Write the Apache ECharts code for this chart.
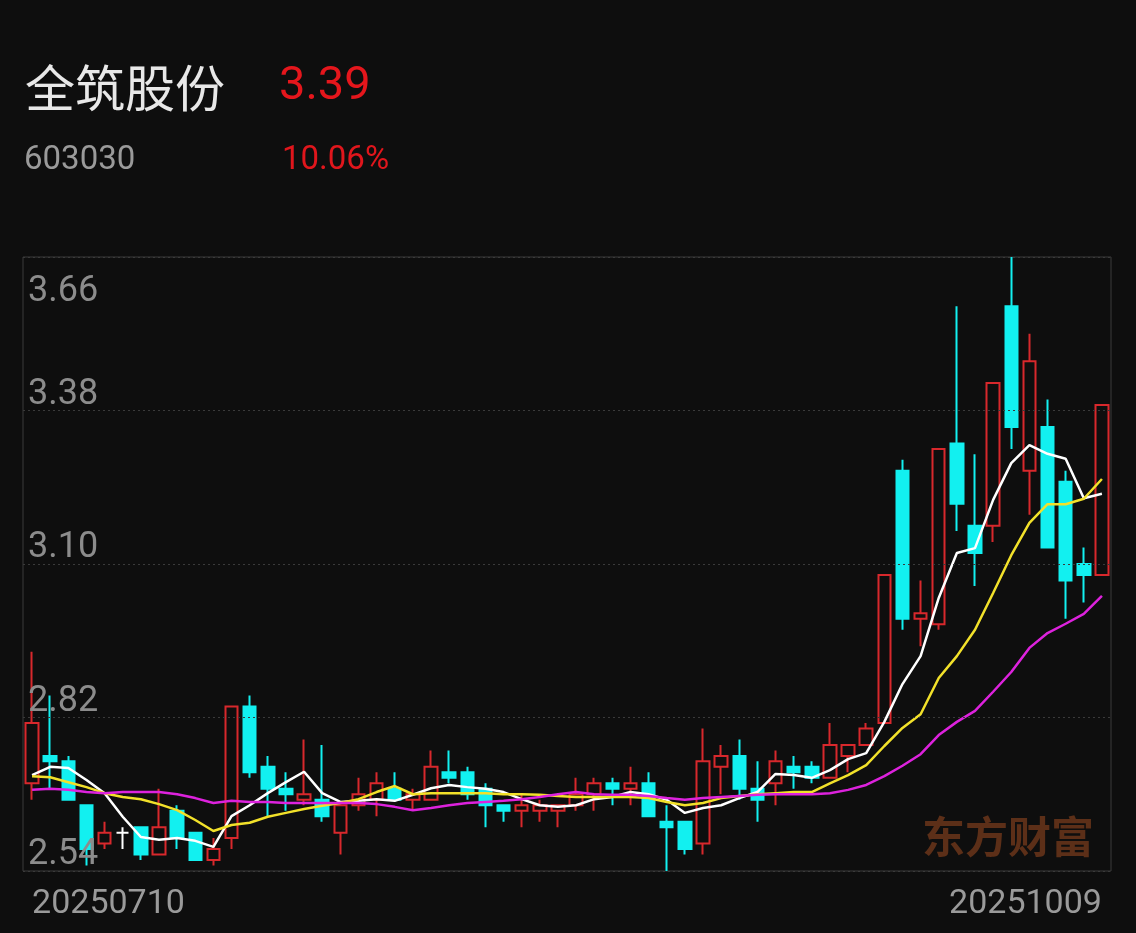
<!DOCTYPE html>
<html>
<head>
<meta charset="utf-8">
<script src="https://cdn.jsdelivr.net/npm/echarts@6/dist/echarts.min.js"></script>
<style>
html,body{margin:0;padding:0;background:#0e0e0e;}
#c{width:1136px;height:933px;}
</style>
</head>
<body>
<div id="c"></div>
<script>
const stockName = '全筑股份';
const stockCode = '603030';
const lastPrice = '3.39';
const changePct = '10.06%';
const watermark = '东方财富';

const categories = [
'20250710','20250711','20250714','20250715','20250716','20250717','20250718','20250721','20250722','20250723',
'20250724','20250725','20250728','20250729','20250730','20250731','20250801','20250804','20250805','20250806',
'20250807','20250808','20250811','20250812','20250813','20250814','20250815','20250818','20250819','20250820',
'20250821','20250822','20250825','20250826','20250827','20250828','20250829','20250901','20250902','20250903',
'20250904','20250905','20250908','20250909','20250910','20250911','20250912','20250915','20250916','20250917',
'20250918','20250919','20250922','20250923','20250924','20250925','20250926','20250929','20250930','20251009'
];
const openPrices = [2.70,2.75,2.74,2.66,2.59,2.61,2.62,2.57,2.65,2.61,
2.56,2.60,2.84,2.73,2.69,2.67,2.67,2.61,2.66,2.67,
2.69,2.67,2.67,2.72,2.72,2.69,2.66,2.65,2.65,2.65,
2.66,2.68,2.70,2.69,2.70,2.63,2.63,2.59,2.73,2.75,
2.69,2.70,2.73,2.73,2.71,2.75,2.77,2.81,3.27,3.00,
2.99,3.32,3.17,3.17,3.57,3.27,3.35,3.25,3.10,3.08];
const closePrices = [2.81,2.74,2.67,2.58,2.61,2.61,2.57,2.62,2.60,2.56,
2.58,2.84,2.72,2.69,2.68,2.68,2.64,2.66,2.68,2.70,
2.67,2.68,2.73,2.71,2.68,2.66,2.65,2.66,2.66,2.66,
2.68,2.70,2.69,2.70,2.64,2.62,2.58,2.74,2.75,2.69,
2.67,2.74,2.72,2.71,2.77,2.77,2.80,3.08,3.00,3.01,
3.31,3.21,3.12,3.43,3.35,3.47,3.13,3.07,3.08,3.39];
const lowPrices = [2.67,2.69,2.67,2.55,2.58,2.58,2.56,2.57,2.58,2.56,
2.55,2.58,2.71,2.64,2.65,2.66,2.63,2.57,2.65,2.64,
2.67,2.65,2.67,2.70,2.67,2.62,2.63,2.62,2.63,2.62,
2.65,2.65,2.66,2.66,2.64,2.54,2.57,2.57,2.68,2.67,
2.63,2.66,2.69,2.70,2.71,2.72,2.77,2.81,2.98,2.95,
2.98,3.16,3.06,3.14,3.31,3.19,3.13,3.00,3.03,3.08];
const highPrices = [2.94,2.86,2.75,2.66,2.63,2.62,2.62,2.69,2.66,2.61,
2.60,2.84,2.86,2.75,2.72,2.78,2.77,2.66,2.71,2.72,
2.72,2.69,2.76,2.76,2.73,2.70,2.66,2.68,2.67,2.66,
2.71,2.71,2.71,2.73,2.72,2.66,2.63,2.80,2.77,2.78,
2.74,2.76,2.75,2.74,2.81,2.77,2.81,3.08,3.29,3.07,
3.31,3.57,3.30,3.43,3.66,3.52,3.40,3.27,3.13,3.39];
const ma5 = [2.715,2.730,2.728,2.706,2.682,2.639,2.602,2.597,2.600,2.595,
2.584,2.640,2.660,2.682,2.702,2.721,2.682,2.666,2.668,2.671,
2.668,2.679,2.691,2.697,2.693,2.690,2.684,2.671,2.660,2.657,
2.660,2.671,2.675,2.684,2.680,2.670,2.646,2.655,2.660,2.673,
2.684,2.717,2.715,2.710,2.724,2.744,2.755,2.812,2.881,2.932,
3.038,3.120,3.129,3.217,3.284,3.317,3.301,3.292,3.220,3.228];
const ma10 = [2.713,2.711,2.702,2.693,2.682,2.675,2.671,2.662,2.651,2.633,
2.613,2.624,2.628,2.639,2.646,2.653,2.659,2.664,2.671,2.684,
2.695,2.680,2.682,2.682,2.682,2.682,2.680,2.680,2.679,2.677,
2.675,2.675,2.675,2.675,2.673,2.666,2.660,2.664,2.673,2.677,
2.680,2.682,2.684,2.684,2.700,2.715,2.733,2.768,2.801,2.826,
2.892,2.932,2.980,3.047,3.116,3.175,3.209,3.209,3.219,3.255];
const ma20 = [2.688,2.690,2.688,2.684,2.682,2.684,2.684,2.684,2.680,2.673,
2.664,2.668,2.666,2.666,2.664,2.664,2.664,2.664,2.664,2.662,
2.657,2.651,2.655,2.660,2.664,2.666,2.668,2.671,2.675,2.680,
2.684,2.680,2.679,2.679,2.677,2.673,2.670,2.673,2.675,2.677,
2.679,2.680,2.680,2.680,2.682,2.688,2.697,2.713,2.732,2.753,
2.788,2.812,2.832,2.867,2.903,2.947,2.974,2.991,3.009,3.042];
const yMin = 2.54, yMax = 3.66, yStep = 0.28;

const candleData = categories.map((c, i) => [openPrices[i], closePrices[i], lowPrices[i], highPrices[i]]);

const chart = echarts.init(document.getElementById('c'), null, {renderer: 'canvas'});
const lineSeries = (name, data, color) => ({
  name, type: 'line', data, symbol: 'none', smooth: false, silent: true,
  lineStyle: {color, width: 2.5}, z: 5
});
chart.setOption({
  backgroundColor: '#0e0e0e',
  animation: false,
  graphic: [
    {type: 'text', x: 25, y: 88, style: {text: stockName, font: '50px "Noto Sans CJK SC"', fill: '#e8e8e8', verticalAlign: 'middle'}},
    {type: 'text', x: 279, y: 87, style: {text: lastPrice, font: '47px Roboto', fill: '#e5161c', verticalAlign: 'middle'}},
    {type: 'text', x: 24, y: 161, style: {text: stockCode, font: '33px Roboto', fill: '#9a9a9a', verticalAlign: 'middle'}},
    {type: 'text', x: 282, y: 161, style: {text: changePct, font: '33px Roboto', fill: '#e0161c', verticalAlign: 'middle'}},
    {type: 'text', x: 1094, y: 837, z: 0, style: {text: watermark, font: 'bold 43px "Noto Sans CJK SC"', fill: '#5c2f18', align: 'right', verticalAlign: 'middle'}}
  ],
  grid: {left: 23, right: 25, top: 257, bottom: 62, show: true, borderColor: '#3a3a3a', borderWidth: 1, backgroundColor: 'transparent'},
  xAxis: {
    type: 'category', data: categories, boundaryGap: true,
    axisLine: {show: false}, axisTick: {show: false}, splitLine: {show: false},
    axisLabel: {
      interval: (i) => i === 0 || i === categories.length - 1,
      alignMinLabel: 'left', alignMaxLabel: 'right',
      color: '#9a9a9a', fontSize: 34, fontFamily: 'Roboto', margin: 16
    }
  },
  yAxis: {
    type: 'value', min: yMin, max: yMax, interval: yStep, scale: true,
    axisLine: {show: false}, axisTick: {show: false},
    splitLine: {show: true, lineStyle: {color: '#3a3a3a', type: [2, 3], width: 1}},
    axisLabel: {
      inside: true, margin: 5, color: '#8c8c8c', fontSize: 36, fontFamily: 'Roboto',
      formatter: (v) => Math.abs(v - yMax) < 1e-6 ? '{t|' + v.toFixed(2) + '}' : '{n|' + v.toFixed(2) + '}',
      rich: {
        t: {padding: [70, 0, 0, 0], color: '#8c8c8c', fontSize: 36, fontFamily: 'Roboto'},
        n: {padding: [0, 0, 32, 0], color: '#8c8c8c', fontSize: 36, fontFamily: 'Roboto'}
      }
    },
    z: 10
  },
  series: [
    {
      type: 'candlestick', data: candleData, barWidth: 13, z: 3,
      itemStyle: {
        color: 'rgba(0,0,0,0)', color0: '#12f0f0',
        borderColor: '#d8282c', borderColor0: '#12f0f0',
        borderColorDoji: '#ffffff', borderWidth: 2
      }
    },
    lineSeries('MA5', ma5, '#ffffff'),
    lineSeries('MA10', ma10, '#f2e12a'),
    lineSeries('MA20', ma20, '#dd22dd')
  ]
});
</script>
</body>
</html>
